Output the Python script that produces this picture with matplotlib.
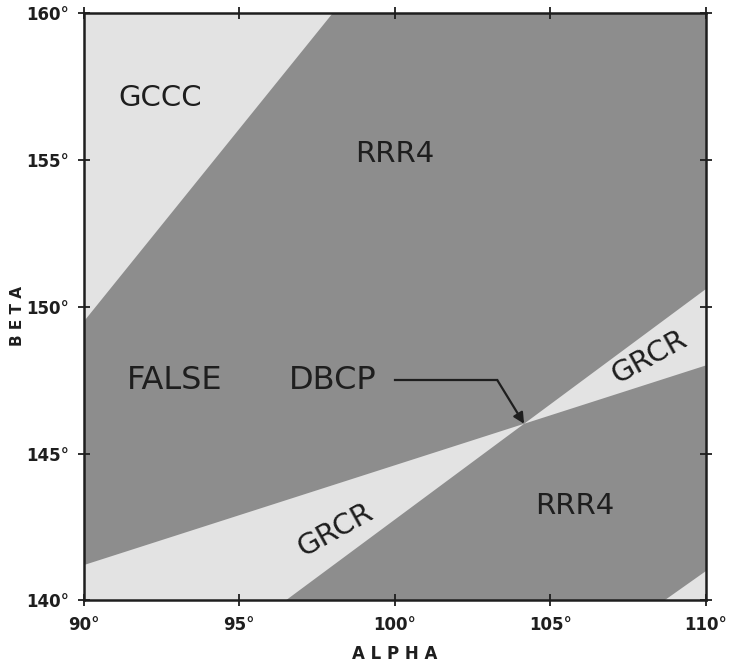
import matplotlib.pyplot as plt
import numpy as np

# zone boundaries in (alpha, beta), degrees
gccc_edge = [(90.0, 149.5), (98.0, 160.0)]
grcr_edge_a = [(90.0, 141.2), (110.0, 148.0)]
grcr_edge_b = [(96.5, 140.0), (110.0, 150.6)]
corner_edge = [(108.7, 140.0), (110.0, 141.0)]

x_ticks = [90, 95, 100, 105, 110]
y_ticks = [140, 145, 150, 155, 160]

# region labels: text, alpha, beta, rotation
zone_labels = [
    ("GCCC", 92.45, 157.1, 0),
    ("RRR4", 100.0, 155.2, 0),
    ("RRR4", 105.8, 143.2, 0),
    ("GRCR", 98.1, 142.4, 29),
    ("GRCR", 108.2, 148.3, 29),
]
# "FALSE DBCP" is set as two words, spaced out
dbcp_words = [("FALSE", 91.4, 147.5), ("DBCP", 96.6, 147.5)]
dbcp_arrow = [(100.0, 147.5), (103.3, 147.5)]

dark = "#8d8d8d"
light = "#e3e3e3"
ink = "#1e1e1e"


def crossing(p, q):
    (x1, y1), (x2, y2) = p
    (x3, y3), (x4, y4) = q
    m1 = (y2 - y1) / (x2 - x1)
    m2 = (y4 - y3) / (x4 - x3)
    x = (y3 - y1 + m1 * x1 - m2 * x3) / (m1 - m2)
    return x, y1 + m1 * (x - x1)


fig = plt.figure(figsize=(7.42, 6.67), dpi=100)
ax = fig.add_axes([0.113, 0.1, 0.838, 0.88])
ax.set_facecolor(dark)

cx, cy = crossing(grcr_edge_a, grcr_edge_b)

# GCCC corner, top left
ax.fill([gccc_edge[0][0], gccc_edge[1][0], gccc_edge[0][0]],
        [gccc_edge[0][1], gccc_edge[1][1], gccc_edge[1][1]], color=light, lw=0)

# GRCR double wedge meeting at the false DBCP
ax.fill([grcr_edge_a[0][0], grcr_edge_a[0][0], grcr_edge_b[0][0], cx],
        [grcr_edge_a[0][1], grcr_edge_b[0][1], grcr_edge_b[0][1], cy], color=light, lw=0)
ax.fill([cx, grcr_edge_a[1][0], grcr_edge_b[1][0]],
        [cy, grcr_edge_a[1][1], grcr_edge_b[1][1]], color=light, lw=0)

# small light corner, bottom right
ax.fill([corner_edge[0][0], corner_edge[1][0], corner_edge[1][0]],
        [corner_edge[0][1], corner_edge[0][1], corner_edge[1][1]], color=light, lw=0)

for txt, a, b, rot in zone_labels:
    ax.text(a, b, txt, fontsize=21, color=ink, ha="center", va="center", rotation=rot)

for txt, a, b in dbcp_words:
    ax.text(a, b, txt, fontsize=23, color=ink, ha="left", va="center")
ax.plot([p[0] for p in dbcp_arrow], [p[1] for p in dbcp_arrow], color=ink, lw=1.6)
ax.annotate("", xy=(cx, cy), xytext=dbcp_arrow[1],
            arrowprops=dict(arrowstyle="-|>", color=ink, lw=1.6, mutation_scale=16,
                            shrinkA=0, shrinkB=0))

ax.set_xlim(90, 110)
ax.set_ylim(140, 160)
ax.set_xticks(x_ticks)
ax.set_yticks(y_ticks)
ax.set_xticklabels([f"{v}°" for v in x_ticks], fontsize=12, fontweight="bold")
ax.set_yticklabels([f"{v}°" for v in y_ticks], fontsize=12, fontweight="bold")
ax.tick_params(direction="inout", length=9, width=1.3, top=True, right=True,
               pad=6, colors=ink)
ax.tick_params(axis="x", pad=7)
for s in ax.spines.values():
    s.set_linewidth(1.8)
    s.set_color(ink)

ax.set_xlabel("A L P H A", fontsize=12, fontweight="bold", labelpad=8, color=ink)
fig.text(0.024, 0.526, "B E T A", fontsize=11, fontweight="bold", color=ink,
         rotation=90, ha="center", va="center")

fig.savefig("out.png", dpi=100)
